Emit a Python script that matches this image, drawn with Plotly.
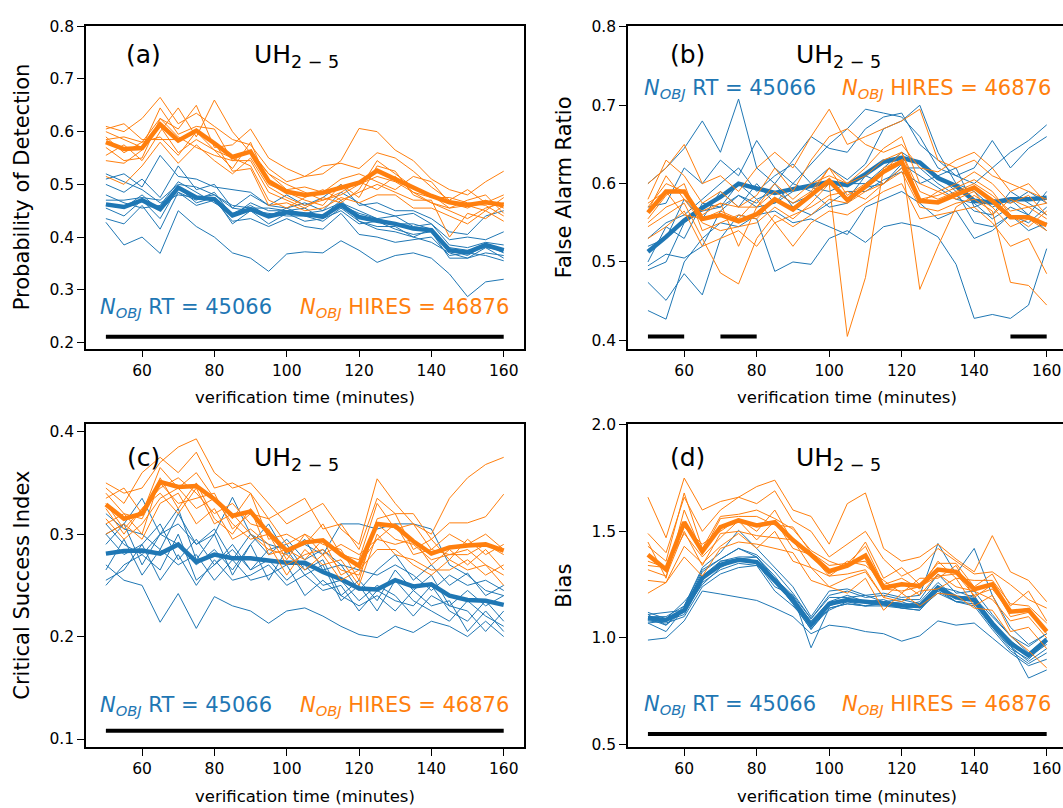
import plotly.graph_objects as go

W, H = 1063, 808
BLUE = "#1f77b4"
ORANGE = "#ff7f0e"
FONT = "DejaVu Sans"

times = [50, 55, 60, 65, 70, 75, 80, 85, 90, 95, 100, 105, 110, 115, 120, 125, 130, 135, 140, 145, 150, 155, 160]
xtick_vals = [60, 80, 100, 120, 140, 160]

# ---------------- (a) Probability of Detection ----------------
pod_rt_mean = [0.462, 0.457, 0.470, 0.453, 0.494, 0.475, 0.472, 0.441, 0.453, 0.439, 0.447, 0.442, 0.439, 0.461, 0.438, 0.431, 0.425, 0.416, 0.413, 0.375, 0.371, 0.385, 0.375]
pod_hires_mean = [0.580, 0.567, 0.569, 0.614, 0.583, 0.602, 0.578, 0.552, 0.562, 0.506, 0.486, 0.480, 0.484, 0.494, 0.503, 0.526, 0.510, 0.492, 0.478, 0.466, 0.461, 0.466, 0.461]
pod_rt_members = [
    [0.51, 0.52, 0.495, 0.555, 0.515, 0.51, 0.495, 0.49, 0.485, 0.46, 0.48, 0.46, 0.475, 0.50, 0.46, 0.465, 0.45, 0.45, 0.435, 0.41, 0.405, 0.44, 0.45],
    [0.50, 0.485, 0.51, 0.475, 0.535, 0.49, 0.50, 0.455, 0.48, 0.46, 0.455, 0.465, 0.45, 0.485, 0.465, 0.45, 0.44, 0.445, 0.425, 0.395, 0.40, 0.395, 0.41],
    [0.47, 0.47, 0.475, 0.47, 0.50, 0.495, 0.48, 0.46, 0.455, 0.455, 0.45, 0.445, 0.45, 0.465, 0.45, 0.435, 0.44, 0.42, 0.425, 0.385, 0.38, 0.39, 0.385],
    [0.455, 0.44, 0.47, 0.435, 0.495, 0.465, 0.475, 0.425, 0.45, 0.425, 0.445, 0.43, 0.435, 0.45, 0.425, 0.43, 0.415, 0.405, 0.41, 0.36, 0.36, 0.37, 0.365],
    [0.428, 0.385, 0.40, 0.369, 0.45, 0.42, 0.40, 0.37, 0.36, 0.335, 0.368, 0.372, 0.37, 0.393, 0.375, 0.352, 0.365, 0.37, 0.36, 0.33, 0.287, 0.315, 0.32],
    [0.435, 0.425, 0.46, 0.415, 0.485, 0.46, 0.47, 0.43, 0.435, 0.42, 0.435, 0.42, 0.415, 0.445, 0.405, 0.40, 0.39, 0.395, 0.40, 0.365, 0.37, 0.365, 0.355],
    [0.48, 0.465, 0.455, 0.46, 0.505, 0.485, 0.465, 0.445, 0.46, 0.44, 0.455, 0.44, 0.44, 0.47, 0.43, 0.42, 0.42, 0.40, 0.415, 0.375, 0.365, 0.385, 0.37],
    [0.46, 0.455, 0.48, 0.45, 0.485, 0.47, 0.485, 0.44, 0.465, 0.45, 0.45, 0.455, 0.435, 0.46, 0.445, 0.435, 0.425, 0.425, 0.415, 0.38, 0.375, 0.38, 0.375],
    [0.52, 0.505, 0.49, 0.465, 0.48, 0.475, 0.48, 0.455, 0.45, 0.445, 0.44, 0.44, 0.43, 0.455, 0.43, 0.415, 0.41, 0.40, 0.39, 0.37, 0.36, 0.38, 0.36],
]
pod_hires_members = [
    [0.61, 0.60, 0.625, 0.665, 0.615, 0.635, 0.61, 0.585, 0.575, 0.53, 0.505, 0.515, 0.52, 0.545, 0.606, 0.60, 0.565, 0.545, 0.51, 0.49, 0.48, 0.505, 0.525],
    [0.585, 0.59, 0.58, 0.625, 0.605, 0.65, 0.57, 0.575, 0.605, 0.55, 0.53, 0.515, 0.535, 0.54, 0.53, 0.56, 0.55, 0.525, 0.495, 0.47, 0.49, 0.465, 0.48],
    [0.555, 0.575, 0.545, 0.60, 0.645, 0.59, 0.66, 0.60, 0.56, 0.52, 0.49, 0.495, 0.485, 0.51, 0.52, 0.505, 0.49, 0.515, 0.505, 0.465, 0.455, 0.47, 0.455],
    [0.60, 0.585, 0.57, 0.645, 0.595, 0.61, 0.605, 0.545, 0.545, 0.485, 0.47, 0.455, 0.475, 0.465, 0.49, 0.545, 0.52, 0.495, 0.48, 0.455, 0.47, 0.48, 0.445],
    [0.545, 0.54, 0.565, 0.61, 0.56, 0.585, 0.565, 0.53, 0.58, 0.50, 0.485, 0.47, 0.46, 0.50, 0.475, 0.535, 0.525, 0.48, 0.465, 0.45, 0.435, 0.455, 0.465],
    [0.59, 0.56, 0.58, 0.59, 0.555, 0.60, 0.565, 0.55, 0.535, 0.47, 0.455, 0.475, 0.49, 0.47, 0.485, 0.50, 0.485, 0.47, 0.47, 0.40, 0.445, 0.435, 0.46],
    [0.515, 0.50, 0.535, 0.58, 0.54, 0.575, 0.545, 0.52, 0.55, 0.495, 0.475, 0.46, 0.47, 0.48, 0.50, 0.515, 0.505, 0.485, 0.475, 0.475, 0.465, 0.46, 0.44],
    [0.57, 0.545, 0.55, 0.625, 0.59, 0.57, 0.555, 0.545, 0.565, 0.52, 0.50, 0.485, 0.47, 0.485, 0.505, 0.49, 0.515, 0.485, 0.465, 0.455, 0.46, 0.45, 0.475],
    [0.605, 0.615, 0.585, 0.585, 0.585, 0.60, 0.58, 0.525, 0.53, 0.46, 0.465, 0.45, 0.455, 0.475, 0.465, 0.48, 0.48, 0.455, 0.455, 0.44, 0.425, 0.45, 0.43],
]
pod_sig_segments = [(50, 160)]
pod_sig_level = 0.211

# ---------------- (b) False Alarm Ratio ----------------
far_rt_mean = [0.513, 0.532, 0.553, 0.569, 0.583, 0.600, 0.594, 0.588, 0.593, 0.597, 0.602, 0.598, 0.612, 0.628, 0.633, 0.627, 0.607, 0.597, 0.578, 0.576, 0.580, 0.580, 0.582]
far_hires_mean = [0.563, 0.590, 0.590, 0.555, 0.560, 0.552, 0.561, 0.580, 0.567, 0.586, 0.604, 0.579, 0.596, 0.615, 0.628, 0.578, 0.576, 0.586, 0.595, 0.578, 0.557, 0.557, 0.547]
far_rt_members = [
    [0.60, 0.62, 0.645, 0.68, 0.64, 0.708, 0.62, 0.60, 0.63, 0.66, 0.645, 0.64, 0.67, 0.685, 0.69, 0.65, 0.63, 0.61, 0.60, 0.62, 0.64, 0.655, 0.675],
    [0.57, 0.575, 0.62, 0.60, 0.63, 0.61, 0.655, 0.62, 0.60, 0.625, 0.65, 0.67, 0.695, 0.69, 0.685, 0.66, 0.62, 0.61, 0.62, 0.655, 0.62, 0.645, 0.66],
    [0.53, 0.55, 0.56, 0.58, 0.60, 0.62, 0.59, 0.61, 0.625, 0.60, 0.62, 0.605, 0.625, 0.67, 0.68, 0.70, 0.64, 0.60, 0.59, 0.57, 0.58, 0.56, 0.59],
    [0.52, 0.53, 0.58, 0.555, 0.59, 0.57, 0.60, 0.575, 0.59, 0.595, 0.59, 0.60, 0.60, 0.62, 0.64, 0.625, 0.61, 0.62, 0.57, 0.58, 0.575, 0.59, 0.575],
    [0.50, 0.545, 0.53, 0.575, 0.57, 0.60, 0.58, 0.59, 0.575, 0.585, 0.60, 0.58, 0.61, 0.60, 0.62, 0.62, 0.60, 0.585, 0.565, 0.56, 0.59, 0.575, 0.56],
    [0.49, 0.50, 0.55, 0.565, 0.57, 0.585, 0.575, 0.60, 0.57, 0.56, 0.575, 0.59, 0.59, 0.605, 0.615, 0.60, 0.61, 0.59, 0.55, 0.545, 0.56, 0.54, 0.55],
    [0.474, 0.451, 0.485, 0.458, 0.53, 0.56, 0.555, 0.488, 0.50, 0.497, 0.53, 0.54, 0.525, 0.545, 0.55, 0.545, 0.532, 0.497, 0.428, 0.433, 0.428, 0.445, 0.517],
    [0.438, 0.427, 0.50, 0.53, 0.55, 0.545, 0.56, 0.565, 0.55, 0.555, 0.545, 0.535, 0.57, 0.58, 0.59, 0.575, 0.555, 0.565, 0.53, 0.54, 0.56, 0.55, 0.57],
    [0.495, 0.51, 0.505, 0.52, 0.565, 0.585, 0.57, 0.575, 0.60, 0.59, 0.57, 0.575, 0.595, 0.60, 0.625, 0.61, 0.595, 0.58, 0.575, 0.555, 0.57, 0.56, 0.54],
]
far_hires_members = [
    [0.60, 0.62, 0.65, 0.60, 0.61, 0.59, 0.62, 0.64, 0.62, 0.66, 0.695, 0.65, 0.66, 0.67, 0.68, 0.695, 0.63, 0.62, 0.63, 0.61, 0.60, 0.59, 0.58],
    [0.58, 0.63, 0.61, 0.575, 0.59, 0.57, 0.585, 0.62, 0.59, 0.63, 0.66, 0.67, 0.65, 0.64, 0.65, 0.62, 0.615, 0.63, 0.64, 0.62, 0.59, 0.60, 0.575],
    [0.57, 0.60, 0.59, 0.56, 0.575, 0.57, 0.57, 0.60, 0.58, 0.60, 0.61, 0.60, 0.62, 0.645, 0.66, 0.60, 0.59, 0.60, 0.615, 0.60, 0.575, 0.585, 0.56],
    [0.555, 0.585, 0.60, 0.54, 0.55, 0.56, 0.555, 0.58, 0.57, 0.585, 0.62, 0.60, 0.61, 0.63, 0.64, 0.59, 0.58, 0.59, 0.60, 0.585, 0.565, 0.57, 0.555],
    [0.55, 0.57, 0.58, 0.55, 0.54, 0.545, 0.55, 0.57, 0.555, 0.575, 0.60, 0.405, 0.48, 0.62, 0.63, 0.465, 0.52, 0.57, 0.585, 0.57, 0.545, 0.555, 0.54],
    [0.545, 0.56, 0.575, 0.53, 0.486, 0.472, 0.53, 0.56, 0.545, 0.56, 0.58, 0.575, 0.59, 0.60, 0.615, 0.57, 0.565, 0.575, 0.58, 0.565, 0.474, 0.47, 0.445],
    [0.53, 0.545, 0.565, 0.52, 0.53, 0.54, 0.52, 0.55, 0.52, 0.55, 0.565, 0.56, 0.575, 0.59, 0.60, 0.555, 0.56, 0.565, 0.57, 0.55, 0.52, 0.53, 0.485],
    [0.565, 0.61, 0.58, 0.565, 0.575, 0.52, 0.57, 0.59, 0.575, 0.59, 0.62, 0.585, 0.60, 0.615, 0.64, 0.58, 0.585, 0.595, 0.605, 0.59, 0.56, 0.545, 0.565],
    [0.575, 0.59, 0.56, 0.555, 0.565, 0.555, 0.58, 0.55, 0.56, 0.57, 0.585, 0.59, 0.58, 0.60, 0.62, 0.575, 0.59, 0.58, 0.59, 0.56, 0.58, 0.57, 0.575],
]
far_sig_segments = [(50, 60), (70, 80), (150, 160)]
far_sig_level = 0.405

# ---------------- (c) Critical Success Index ----------------
csi_rt_mean = [0.281, 0.2835, 0.284, 0.281, 0.290, 0.273, 0.280, 0.2765, 0.2765, 0.274, 0.272, 0.272, 0.263, 0.256, 0.247, 0.246, 0.255, 0.249, 0.251, 0.240, 0.2357, 0.235, 0.231]
csi_hires_mean = [0.329, 0.315, 0.320, 0.351, 0.346, 0.347, 0.334, 0.318, 0.322, 0.301, 0.284, 0.292, 0.294, 0.280, 0.269, 0.310, 0.308, 0.293, 0.281, 0.287, 0.289, 0.290, 0.284]
csi_rt_members = [
    [0.27, 0.255, 0.25, 0.214, 0.242, 0.208, 0.239, 0.23, 0.225, 0.213, 0.225, 0.228, 0.22, 0.21, 0.202, 0.199, 0.21, 0.204, 0.215, 0.21, 0.20, 0.215, 0.20],
    [0.30, 0.31, 0.335, 0.30, 0.31, 0.29, 0.30, 0.336, 0.30, 0.29, 0.285, 0.29, 0.28, 0.31, 0.31, 0.305, 0.31, 0.31, 0.305, 0.27, 0.26, 0.245, 0.24],
    [0.29, 0.31, 0.27, 0.30, 0.325, 0.275, 0.30, 0.26, 0.29, 0.31, 0.28, 0.295, 0.265, 0.27, 0.245, 0.265, 0.28, 0.255, 0.27, 0.25, 0.262, 0.24, 0.25],
    [0.30, 0.28, 0.29, 0.31, 0.275, 0.295, 0.27, 0.29, 0.265, 0.285, 0.29, 0.265, 0.275, 0.24, 0.255, 0.235, 0.265, 0.245, 0.26, 0.23, 0.245, 0.23, 0.24],
    [0.255, 0.265, 0.29, 0.255, 0.28, 0.25, 0.275, 0.255, 0.26, 0.27, 0.25, 0.26, 0.245, 0.25, 0.225, 0.245, 0.235, 0.23, 0.25, 0.225, 0.215, 0.235, 0.215],
    [0.31, 0.29, 0.28, 0.30, 0.29, 0.27, 0.285, 0.265, 0.29, 0.255, 0.285, 0.26, 0.27, 0.235, 0.25, 0.225, 0.255, 0.235, 0.225, 0.215, 0.235, 0.22, 0.21],
    [0.265, 0.295, 0.26, 0.285, 0.27, 0.28, 0.255, 0.275, 0.255, 0.26, 0.27, 0.24, 0.255, 0.24, 0.23, 0.24, 0.225, 0.245, 0.23, 0.235, 0.205, 0.225, 0.205],
    [0.32, 0.305, 0.30, 0.285, 0.32, 0.29, 0.305, 0.275, 0.30, 0.28, 0.295, 0.275, 0.285, 0.27, 0.265, 0.26, 0.27, 0.26, 0.245, 0.26, 0.25, 0.255, 0.245],
    [0.25, 0.27, 0.28, 0.265, 0.30, 0.255, 0.27, 0.285, 0.265, 0.275, 0.255, 0.27, 0.25, 0.255, 0.235, 0.25, 0.24, 0.22, 0.24, 0.23, 0.225, 0.205, 0.225],
]
csi_hires_members = [
    [0.35, 0.34, 0.345, 0.37, 0.385, 0.393, 0.36, 0.345, 0.35, 0.33, 0.31, 0.32, 0.33, 0.305, 0.29, 0.354, 0.33, 0.31, 0.30, 0.335, 0.355, 0.368, 0.375],
    [0.345, 0.33, 0.36, 0.375, 0.36, 0.38, 0.345, 0.35, 0.34, 0.315, 0.325, 0.335, 0.305, 0.31, 0.285, 0.335, 0.32, 0.32, 0.295, 0.311, 0.311, 0.317, 0.339],
    [0.335, 0.345, 0.32, 0.365, 0.345, 0.36, 0.335, 0.315, 0.34, 0.295, 0.30, 0.29, 0.31, 0.28, 0.275, 0.33, 0.305, 0.31, 0.285, 0.30, 0.29, 0.30, 0.285],
    [0.325, 0.30, 0.325, 0.345, 0.355, 0.34, 0.32, 0.33, 0.31, 0.305, 0.275, 0.30, 0.29, 0.285, 0.255, 0.315, 0.32, 0.285, 0.295, 0.275, 0.295, 0.28, 0.29],
    [0.31, 0.32, 0.30, 0.355, 0.325, 0.35, 0.315, 0.30, 0.325, 0.28, 0.285, 0.275, 0.295, 0.26, 0.27, 0.295, 0.29, 0.295, 0.27, 0.285, 0.27, 0.285, 0.265],
    [0.30, 0.31, 0.295, 0.33, 0.34, 0.31, 0.325, 0.295, 0.305, 0.29, 0.26, 0.285, 0.27, 0.275, 0.25, 0.30, 0.28, 0.275, 0.265, 0.265, 0.275, 0.26, 0.27],
    [0.34, 0.32, 0.315, 0.35, 0.33, 0.335, 0.34, 0.305, 0.32, 0.315, 0.29, 0.30, 0.28, 0.29, 0.28, 0.295, 0.31, 0.28, 0.285, 0.28, 0.28, 0.29, 0.28],
    [0.315, 0.295, 0.31, 0.335, 0.345, 0.325, 0.335, 0.31, 0.295, 0.30, 0.27, 0.28, 0.285, 0.265, 0.26, 0.31, 0.295, 0.29, 0.275, 0.28, 0.285, 0.27, 0.26],
    [0.33, 0.305, 0.325, 0.34, 0.32, 0.345, 0.31, 0.32, 0.30, 0.285, 0.28, 0.265, 0.28, 0.255, 0.265, 0.285, 0.285, 0.27, 0.26, 0.275, 0.265, 0.27, 0.25],
]
csi_sig_segments = [(50, 160)]
csi_sig_level = 0.108

# ---------------- (d) Bias ----------------
bias_rt_mean = [1.092, 1.084, 1.130, 1.282, 1.343, 1.367, 1.356, 1.267, 1.180, 1.061, 1.160, 1.178, 1.168, 1.163, 1.153, 1.150, 1.236, 1.190, 1.178, 1.068, 0.976, 0.918, 0.993]
bias_hires_mean = [1.390, 1.321, 1.543, 1.405, 1.520, 1.551, 1.528, 1.543, 1.459, 1.390, 1.313, 1.339, 1.387, 1.236, 1.252, 1.244, 1.321, 1.310, 1.229, 1.252, 1.123, 1.131, 1.030]
bias_rt_members = [
    [1.10, 1.10, 1.15, 1.33, 1.40, 1.505, 1.42, 1.33, 1.24, 1.10, 1.22, 1.23, 1.20, 1.21, 1.19, 1.20, 1.443, 1.30, 1.42, 1.20, 1.05, 0.97, 1.02],
    [1.09, 1.06, 1.15, 1.32, 1.37, 1.42, 1.39, 1.31, 1.21, 1.09, 1.20, 1.22, 1.19, 1.20, 1.18, 1.18, 1.30, 1.21, 1.22, 1.11, 1.01, 0.93, 1.00],
    [1.12, 1.09, 1.17, 1.27, 1.36, 1.37, 1.38, 1.29, 1.18, 1.08, 1.17, 1.20, 1.17, 1.18, 1.15, 1.17, 1.26, 1.19, 1.20, 1.07, 0.99, 0.91, 0.97],
    [1.07, 1.08, 1.11, 1.26, 1.32, 1.35, 1.34, 1.27, 1.16, 1.04, 1.14, 1.16, 1.15, 1.17, 1.14, 1.13, 1.22, 1.17, 1.18, 1.05, 0.96, 0.89, 0.95],
    [0.99, 1.00, 1.08, 1.22, 1.206, 1.19, 1.176, 1.14, 1.10, 1.02, 1.06, 1.05, 1.03, 1.02, 0.985, 1.01, 1.08, 1.06, 1.07, 1.00, 0.93, 0.87, 0.90],
    [1.11, 1.06, 1.13, 1.29, 1.36, 1.38, 1.38, 1.28, 1.20, 0.954, 1.14, 1.16, 1.15, 1.15, 1.14, 1.13, 1.24, 1.19, 1.18, 1.07, 0.97, 0.812, 0.85],
    [1.07, 1.03, 1.14, 1.31, 1.37, 1.42, 1.38, 1.27, 1.16, 1.04, 1.15, 1.18, 1.17, 1.16, 1.14, 1.15, 1.23, 1.17, 1.16, 1.05, 0.95, 0.90, 0.98],
    [1.11, 1.12, 1.13, 1.25, 1.33, 1.37, 1.35, 1.24, 1.20, 1.09, 1.19, 1.19, 1.20, 1.17, 1.18, 1.16, 1.24, 1.22, 1.19, 1.10, 1.01, 0.96, 1.02],
    [1.08, 1.07, 1.10, 1.24, 1.30, 1.33, 1.34, 1.22, 1.15, 1.06, 1.13, 1.17, 1.15, 1.16, 1.17, 1.14, 1.21, 1.17, 1.15, 1.04, 0.94, 0.88, 0.93],
]
bias_hires_members = [
    [1.66, 1.47, 1.75, 1.60, 1.64, 1.66, 1.71, 1.74, 1.60, 1.57, 1.44, 1.63, 1.68, 1.42, 1.36, 1.38, 1.44, 1.37, 1.31, 1.48, 1.31, 1.27, 1.17],
    [1.49, 1.40, 1.66, 1.50, 1.60, 1.66, 1.63, 1.69, 1.55, 1.50, 1.38, 1.44, 1.50, 1.37, 1.29, 1.33, 1.42, 1.36, 1.30, 1.31, 1.25, 1.18, 1.14],
    [1.43, 1.36, 1.68, 1.42, 1.57, 1.58, 1.60, 1.56, 1.51, 1.41, 1.36, 1.33, 1.45, 1.28, 1.33, 1.25, 1.35, 1.35, 1.24, 1.30, 1.15, 1.22, 1.08],
    [1.36, 1.33, 1.52, 1.44, 1.50, 1.56, 1.50, 1.60, 1.45, 1.39, 1.30, 1.36, 1.34, 1.27, 1.21, 1.28, 1.28, 1.34, 1.19, 1.25, 1.10, 1.12, 1.04],
    [1.32, 1.29, 1.50, 1.34, 1.49, 1.50, 1.48, 1.47, 1.46, 1.33, 1.29, 1.30, 1.32, 1.19, 1.26, 1.20, 1.30, 1.24, 1.22, 1.18, 1.08, 1.10, 1.00],
    [1.27, 1.26, 1.43, 1.35, 1.43, 1.49, 1.42, 1.50, 1.36, 1.33, 1.24, 1.28, 1.31, 1.19, 1.17, 1.22, 1.23, 1.28, 1.15, 1.20, 1.03, 1.05, 0.95],
    [1.21, 1.26, 1.38, 1.29, 1.42, 1.45, 1.44, 1.42, 1.40, 1.27, 1.24, 1.21, 1.28, 1.13, 1.21, 1.15, 1.21, 1.20, 1.14, 1.13, 1.01, 0.94, 0.86],
    [1.45, 1.28, 1.60, 1.40, 1.56, 1.57, 1.57, 1.53, 1.52, 1.40, 1.34, 1.35, 1.43, 1.25, 1.28, 1.23, 1.36, 1.28, 1.27, 1.27, 1.16, 1.15, 1.07],
    [1.34, 1.33, 1.49, 1.38, 1.47, 1.55, 1.46, 1.55, 1.42, 1.39, 1.29, 1.35, 1.36, 1.23, 1.22, 1.24, 1.29, 1.30, 1.20, 1.23, 1.12, 1.14, 1.02],
]
bias_sig_segments = [(50, 160)]
bias_sig_level = 0.55

panel_letters = ["(a)", "(b)", "(c)", "(d)"]
y_titles = ["Probability of Detection", "False Alarm Ratio", "Critical Success Index", "Bias"]
y_ranges = [[0.1885, 0.8005], [0.3895, 0.8012], [0.0922, 0.4071], [0.4885, 2.0015]]
y_ticks = [[0.2, 0.3, 0.4, 0.5, 0.6, 0.7, 0.8], [0.4, 0.5, 0.6, 0.7, 0.8], [0.1, 0.2, 0.3, 0.4], [0.5, 1.0, 1.5, 2.0]]
n_rt_label = "<i>N</i><sub><i>OBJ</i></sub> RT = 45066"
n_hires_label = "<i>N</i><sub><i>OBJ</i></sub> HIRES = 46876"
x_title = "verification time (minutes)"
uh_label = "UH<sub>2 \u2212 5</sub>"

panels = [
    (pod_rt_members, pod_rt_mean, pod_hires_members, pod_hires_mean, pod_sig_segments, pod_sig_level),
    (far_rt_members, far_rt_mean, far_hires_members, far_hires_mean, far_sig_segments, far_sig_level),
    (csi_rt_members, csi_rt_mean, csi_hires_members, csi_hires_mean, csi_sig_segments, csi_sig_level),
    (bias_rt_members, bias_rt_mean, bias_hires_members, bias_hires_mean, bias_sig_segments, bias_sig_level),
]

# layout geometry (pixels)
col_px = [(86, 523.6), (628, 1063)]
row_px = [(18.3, 347.0), (424.3, 753.0)]
x_ranges = [[44.5, 165.5], [44.5, 164.5]]


def px_x(x):
    return x / W


def px_y(y):
    return 1 - y / H


fig = go.Figure()
layout = dict(
    width=W, height=H, margin=dict(l=0, r=0, t=0, b=0),
    paper_bgcolor="white", plot_bgcolor="white", showlegend=False,
    font=dict(family=FONT, color="black"),
)
annotations = []

for k, (rt_m, rt_mean, hi_m, hi_mean, segs, lvl) in enumerate(panels):
    row, col = divmod(k, 2)
    sfx = "" if k == 0 else str(k + 1)
    xa, ya = "x" + sfx, "y" + sfx
    for m in rt_m:
        fig.add_trace(go.Scatter(x=times, y=m, mode="lines", line=dict(color=BLUE, width=1),
                                 xaxis=xa, yaxis=ya, hoverinfo="skip"))
    fig.add_trace(go.Scatter(x=times, y=rt_mean, mode="lines", line=dict(color=BLUE, width=4.5),
                             xaxis=xa, yaxis=ya))
    for m in hi_m:
        fig.add_trace(go.Scatter(x=times, y=m, mode="lines", line=dict(color=ORANGE, width=1),
                                 xaxis=xa, yaxis=ya, hoverinfo="skip"))
    fig.add_trace(go.Scatter(x=times, y=hi_mean, mode="lines", line=dict(color=ORANGE, width=4.5),
                             xaxis=xa, yaxis=ya))
    for (s0, s1) in segs:
        fig.add_trace(go.Scatter(x=[s0, s1], y=[lvl, lvl], mode="lines",
                                 line=dict(color="black", width=4), xaxis=xa, yaxis=ya))

    x0, x1 = col_px[col]
    y0, y1 = row_px[row]
    layout["xaxis" + sfx] = dict(
        domain=[px_x(x0), px_x(x1)], range=x_ranges[col], anchor=ya,
        tickvals=xtick_vals, ticks="outside", ticklen=7, tickwidth=1.3, tickcolor="black",
        showline=True, linecolor="black", linewidth=1.6, mirror=True,
        showgrid=False, zeroline=False, tickfont=dict(size=15.5, family=FONT, color="black"),
    )
    layout["yaxis" + sfx] = dict(
        domain=[px_y(y1), px_y(y0)], range=y_ranges[k], anchor=xa,
        tickvals=y_ticks[k], tickformat=".1f", ticks="outside", ticklen=7, tickwidth=1.3,
        tickcolor="black", showline=True, linecolor="black", linewidth=1.6,
        mirror=(col == 0), showgrid=False, zeroline=False,
        tickfont=dict(size=15.5, family=FONT, color="black"),
    )

    # texts
    lx = 143 if col == 0 else 687
    ux = 252 if col == 0 else 794
    ly = 47 if row == 0 else 458
    annotations.append(dict(text=panel_letters[k], x=px_x(lx), y=px_y(ly), xref="paper", yref="paper",
                            xanchor="center", yanchor="middle", showarrow=False,
                            font=dict(size=25, family=FONT, color="black")))
    annotations.append(dict(text=uh_label, x=px_x(ux), y=px_y(ly + 2), xref="paper", yref="paper",
                            xanchor="left", yanchor="middle", showarrow=False,
                            font=dict(size=25, family=FONT, color="black")))
    if k == 1:
        ny = 83
    elif k == 3:
        ny = 710
    elif k == 0:
        ny = 306
    else:
        ny = 711
    bx = 98 if col == 0 else 642
    ox = 298 if col == 0 else 840
    annotations.append(dict(text=n_rt_label, x=px_x(bx), y=px_y(ny), xref="paper", yref="paper",
                            xanchor="left", yanchor="middle", showarrow=False,
                            font=dict(size=21, family=FONT, color=BLUE)))
    annotations.append(dict(text=n_hires_label, x=px_x(ox), y=px_y(ny), xref="paper", yref="paper",
                            xanchor="left", yanchor="middle", showarrow=False,
                            font=dict(size=21, family=FONT, color=ORANGE)))
    # axis titles
    annotations.append(dict(text=x_title, x=px_x((x0 + (523.6 if col == 0 else 1066.6)) / 2),
                            y=px_y(y1 + 50), xref="paper", yref="paper",
                            xanchor="center", yanchor="middle", showarrow=False,
                            font=dict(size=16.5, family=FONT, color="black")))
    annotations.append(dict(text=y_titles[k], x=px_x(22 if col == 0 else 564), y=px_y((y0 + y1) / 2),
                            xref="paper", yref="paper", textangle=-90,
                            xanchor="center", yanchor="middle", showarrow=False,
                            font=dict(size=21, family=FONT, color="black")))

layout["annotations"] = annotations
fig.update_layout(**layout)
fig.write_html("out.html")
